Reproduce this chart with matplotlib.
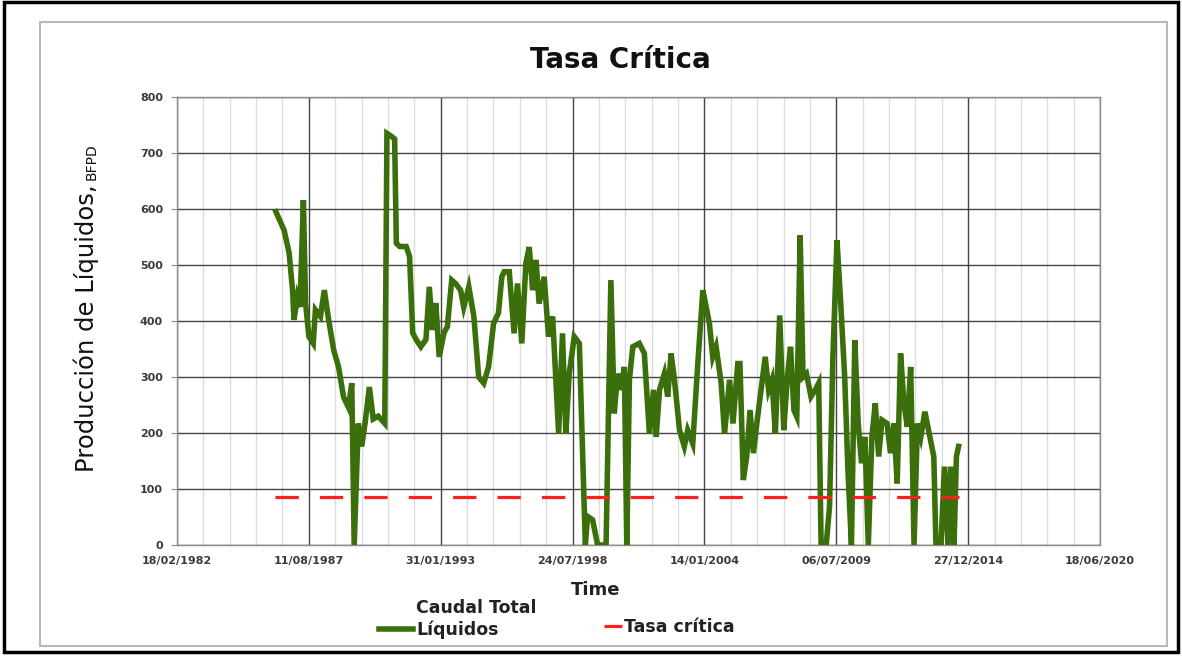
import numpy as np
import pandas as pd
import matplotlib
matplotlib.use("Agg")
import matplotlib.pyplot as plt
import matplotlib.dates as mdates
from matplotlib.ticker import FixedLocator
from matplotlib.patches import Rectangle
from matplotlib.offsetbox import TextArea

# Caudal total de liquidos (BFPD), fechas en anios decimales
years = [1986.24, 1986.58, 1986.79, 1986.93, 1986.99, 1987.13, 1987.24, 1987.38, 1987.47, 1987.61,
         1987.79, 1987.88, 1988.09, 1988.25, 1988.43, 1988.64, 1988.84, 1989.05, 1989.25, 1989.39,
         1989.49, 1989.66, 1989.80, 1989.94, 1990.12, 1990.28, 1990.49, 1990.76, 1990.85, 1991.03,
         1991.17, 1991.24, 1991.38, 1991.65, 1991.79, 1991.92, 1992.06, 1992.26, 1992.47, 1992.61,
         1992.74, 1992.88, 1993.02, 1993.22, 1993.36, 1993.54, 1993.70, 1993.91, 1994.04, 1994.25,
         1994.46, 1994.66, 1994.87, 1995.07, 1995.28, 1995.48, 1995.62,
         1995.72, 1995.93, 1996.13, 1996.27, 1996.45, 1996.62, 1996.76, 1996.90, 1997.04, 1997.17,
         1997.38, 1997.56, 1997.73, 1997.87, 1997.98, 1998.14, 1998.28, 1998.42, 1998.63, 1998.84,
         1998.98, 1999.09, 1999.18, 1999.39, 1999.60, 1999.95, 2000.15, 2000.29, 2000.43, 2000.57,
         2000.71, 2000.81, 2000.92, 2001.06, 2001.33, 2001.54, 2001.75, 2001.92, 2002.03, 2002.17,
         2002.37, 2002.51, 2002.65, 2002.79, 2003.00, 2003.20, 2003.34, 2003.55, 2003.76, 2003.97,
         2004.11, 2004.24, 2004.38, 2004.52, 2004.73, 2004.87, 2005.08, 2005.22, 2005.42,
         2005.51, 2005.65, 2005.79, 2005.93, 2006.07, 2006.21, 2006.42, 2006.56, 2006.70, 2006.84,
         2006.98, 2007.16, 2007.33, 2007.47, 2007.61, 2007.75, 2007.87, 2008.01, 2008.13, 2008.27,
         2008.46, 2008.64, 2008.78, 2008.88, 2009.09, 2009.23, 2009.37, 2009.54, 2009.68, 2009.86,
         2010.00, 2010.14, 2010.28, 2010.42, 2010.56, 2010.70, 2010.84, 2010.99, 2011.13, 2011.27,
         2011.41, 2011.62, 2011.76, 2011.90, 2012.04, 2012.18, 2012.32, 2012.46, 2012.60, 2012.74,
         2012.88, 2013.02, 2013.19, 2013.37, 2013.56, 2013.65, 2013.86, 2014.00, 2014.15, 2014.26,
         2014.40, 2014.50, 2014.59]
caudal = [595, 562, 521, 455, 402, 443, 425, 616, 432, 372,
          360, 420, 408, 455, 402, 348, 318, 264, 246, 289,
          0, 217, 176, 217, 282, 225, 230, 217, 735, 730,
          725, 539, 533, 533, 515, 379, 367, 354, 367, 461,
          384, 432, 336, 379, 390, 473, 467, 455, 425, 461,
          408, 300, 289, 318, 396, 414, 479,
          488, 488, 378, 467, 360, 503, 532, 455, 509, 431,
          479, 372, 408, 289, 199, 378, 199, 306, 372, 360,
          158, 0, 51, 45, 0, 0, 473, 235, 306, 277,
          318, 0, 295, 354, 360, 342, 199, 277, 193, 277,
          306, 265, 342, 295, 205, 176, 205, 181, 324, 455,
          425, 396, 336, 354, 289, 199, 295, 217, 324,
          324, 116, 158, 241, 164, 217, 289, 336, 277, 295,
          199, 410, 205, 295, 354, 241, 229, 553, 300, 306,
          265, 277, 289, 0, 0, 68, 336, 544, 443, 300,
          128, 0, 366, 217, 146, 193, 0, 193, 253, 158,
          223, 217, 164, 217, 110, 342, 253, 211, 318, 0,
          217, 193, 238, 199, 158, 0, 0, 140, 0, 140,
          0, 158, 176]

# Tasa critica
crit_years = [1986.20, 2014.62]
tasa_critica = [85, 85]

x_start, x_end = "1982-02-18", "2020-06-18"
y_ticks = [0, 100, 200, 300, 400, 500, 600, 700, 800]


def to_dates(yrs):
    yrs = np.asarray(yrs, dtype=float)
    return pd.to_datetime("1970-01-01") + pd.to_timedelta((yrs - 1970) * 365.2425, unit="D")


W, H = 1182, 656
fig = plt.figure(figsize=(W / 100, H / 100), dpi=100)
ax = fig.add_axes([177 / W, 1 - 545 / H, (1100 - 177) / W, (545 - 97) / H])

ax.plot(to_dates(years), caudal, color="#3a6f0c", lw=4.0, solid_joinstyle="miter",
        label="Caudal Total\nLíquidos", zorder=3)
red, = ax.plot(to_dates(crit_years), tasa_critica, color="#ff1f1f", lw=2.3,
               label="Tasa crítica", zorder=4)
red.set_dashes([7.3, 6.6])

ax.set_xlim(pd.Timestamp(x_start), pd.Timestamp(x_end))
ax.set_ylim(0, 800)
ax.set_yticks(y_ticks)
ax.xaxis.set_major_locator(FixedLocator(mdates.date2num(pd.date_range(x_start, x_end, freq="2000D"))))
ax.xaxis.set_minor_locator(FixedLocator(mdates.date2num(pd.date_range(x_start, x_end, freq="400D"))))
ax.xaxis.set_major_formatter(mdates.DateFormatter("%d/%m/%Y"))

ax.grid(which="major", axis="both", color="#444444", lw=1.0, zorder=1)
ax.grid(which="minor", axis="x", color="#dcdcdc", lw=1.0, zorder=0)
for s in ax.spines.values():
    s.set_color("#8c8c8c")
    s.set_linewidth(1.0)

ax.tick_params(axis="y", which="major", length=4, color="#8c8c8c", pad=6,
               labelsize=8, labelcolor="#3a3a3a")
ax.tick_params(axis="x", which="major", length=0, pad=8, labelsize=8, labelcolor="#3a3a3a")
ax.tick_params(axis="x", which="minor", length=0)
for lab in ax.get_xticklabels() + ax.get_yticklabels():
    lab.set_fontweight("bold")

fig.text(620 / W, 1 - 60 / H, "Tasa Crítica", ha="center", va="center",
         fontsize=20, fontweight="bold", color="#111111")
fig.text(596 / W, 1 - 590 / H, "Time", ha="center", va="center",
         fontsize=13, fontweight="bold", color="#222222")

fig.text(86 / W, 1 - 472 / H, "Producción de Líquidos,", rotation=90, ha="center", va="bottom",
         fontsize=17.5, color="#111111")
fig.text(92 / W, 1 - 180 / H, "BFPD", rotation=90, ha="center", va="bottom",
         fontsize=10, color="#111111")

handles, labels = ax.get_legend_handles_labels()
leg_font = {"weight": "bold", "size": 12.5}
leg1 = fig.legend(handles[:1], labels[:1], loc="center left",
                  bbox_to_anchor=(363 / W, 1 - 619 / H), frameon=False,
                  handlelength=2.0, handletextpad=0.15, prop=leg_font)
leg2 = fig.legend(handles[1:], labels[1:], loc="center left",
                  bbox_to_anchor=(588 / W, 1 - 627 / H), frameon=False,
                  handlelength=1.05, handletextpad=0.15, prop=leg_font)
for lg in (leg1, leg2):
    for t in lg.get_texts():
        t.set_color("#222222")
# la muestra verde va alineada con la ultima linea del texto
for ta in leg1.findobj(TextArea):
    ta._multilinebaseline = False

# marcos
fig.patches.append(Rectangle((40 / W, 1 - 646 / H), (1167 - 40) / W, (646 - 22) / H,
                             transform=fig.transFigure, fill=False, ec="#b8b8b8", lw=1.5))
fig.patches.append(Rectangle((4 / W, 1 - 652 / H), (1178 - 4) / W, (652 - 2) / H,
                             transform=fig.transFigure, fill=False, ec="#000000", lw=2.5))

fig.savefig("out.png", dpi=100)
